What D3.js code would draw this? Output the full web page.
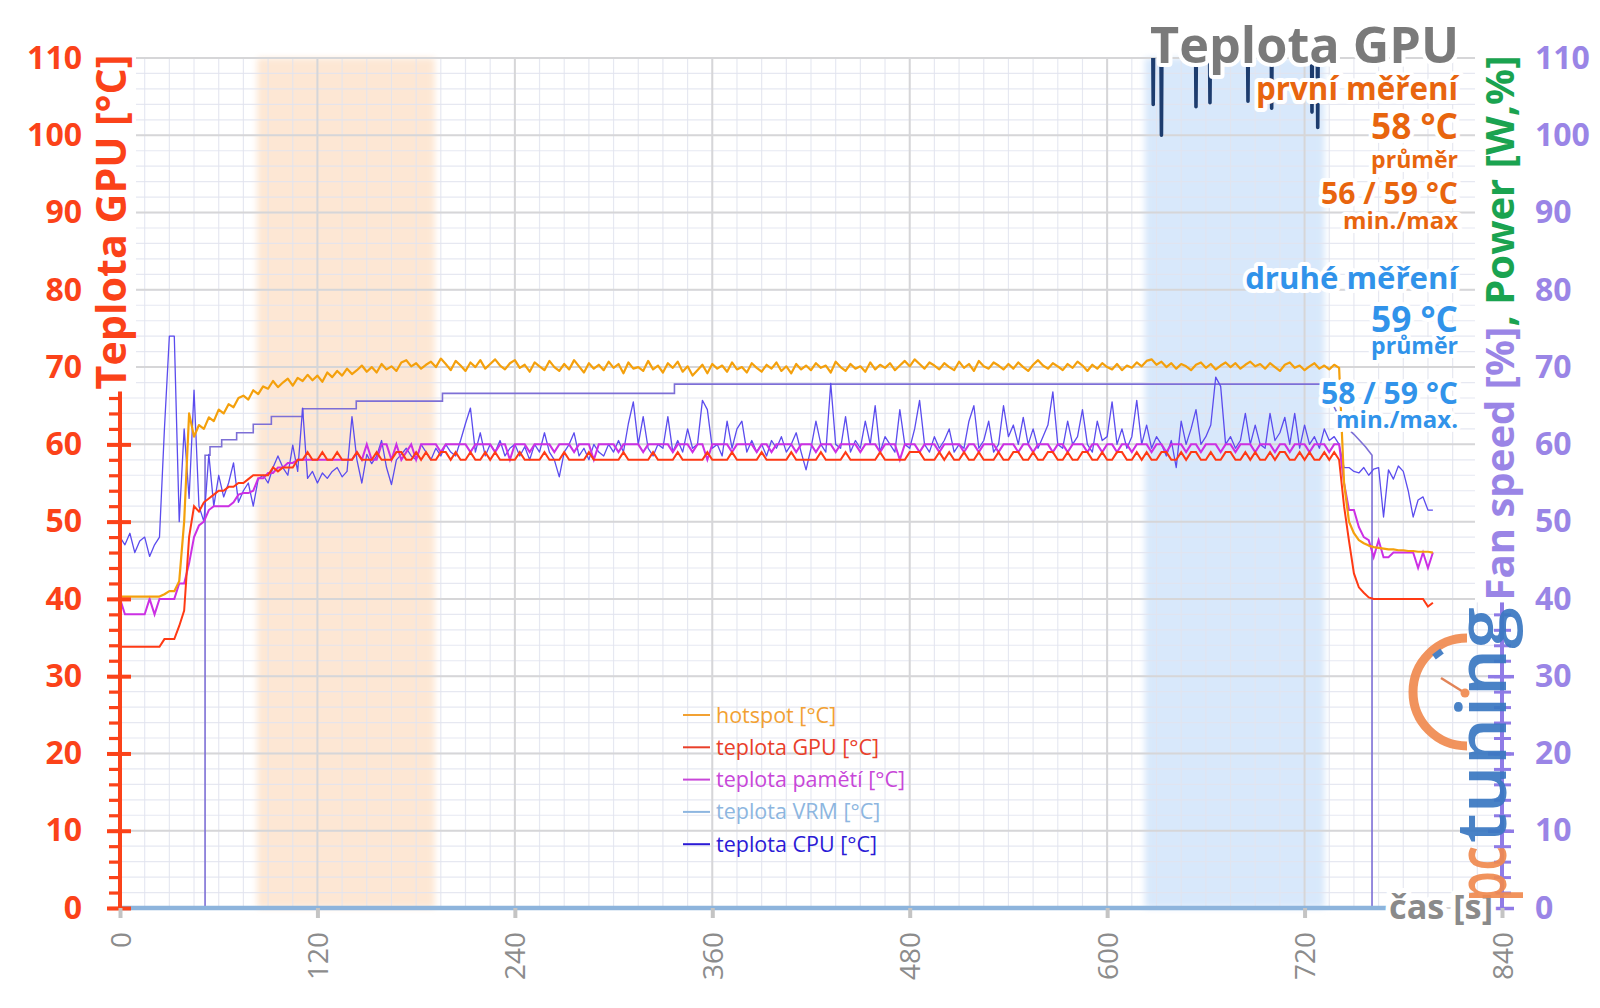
<!DOCTYPE html>
<html><head><meta charset="utf-8">
<script src="https://cdn.jsdelivr.net/npm/d3@7"></script>
<style>
html,body{margin:0;padding:0;background:#fff;}
svg text{font-family:"Open Sans",sans-serif;}
</style></head><body>
<svg id="chart" width="1600" height="1008"></svg>
<script>
// ---------------- data ----------------
const timeStep = 3; // seconds between samples of the sampled series (t = index * 3)
const hotspot = [
40.3,40.3,40.3,40.3,40.3,40.3,40.3,40.3,40.3,40.6,
41,41,42.3,50,64,61,62.5,62,63.5,63,
64.5,64,65.2,64.8,66,66.3,65.8,67,66.5,67.5,
67.2,68.2,67.4,68,68.5,67.6,68.6,68.2,69,68.3,
68.9,68.1,69.3,68.7,69.5,68.9,69.8,69.1,69.6,70.2,
69.4,70,69.3,70.4,69.7,70.1,69.5,70.6,70.9,70.1,
70.5,69.8,70.3,70.7,70,71.1,70.4,69.6,70.8,70.2,
69.5,70.6,70,70.9,69.8,70.4,71,70.2,69.7,70.5,
70.9,69.9,70.3,69.4,70.6,70.1,69.6,70.8,70,69.5,
70.4,69.7,70.9,70.1,69.3,70.5,69.8,70.3,69.6,70.7,
69.9,70.4,69.2,70.6,69.8,70,69.5,70.8,69.7,70.2,
69.3,70.5,69.9,70.7,69.4,70.1,68.9,69.6,70.3,69.2,
70.4,69.8,70.2,69.4,70.6,69.7,70,69.3,70.5,69.9,
69.4,70.3,69.8,70.6,69.5,70.1,69.2,70.4,69.7,70.2,
69.6,70.5,69.9,70.2,69.3,70.7,70,69.5,70.4,69.8,
70.1,69.4,70.6,69.7,70.3,69.9,70.5,69.6,70.2,70.8,
70.1,71,70.4,69.8,70.6,70.2,69.7,70.5,70,69.6,
70.7,69.9,70.4,69.5,70.8,70.1,69.8,70.6,70.2,69.7,
70.4,69.8,70.6,70,69.5,70.3,70.9,70.2,69.8,70.5,
70.1,69.6,70.4,69.9,70.7,70.2,69.5,70.3,69.8,70.5,
70,69.7,70.4,69.6,70.2,69.9,70.6,70.1,70.8,71,
70.3,70.7,70,70.5,69.8,70.4,70.1,69.6,70.3,70.6,
69.9,70.4,69.7,70.2,70.6,70,70.5,69.8,70.3,70.7,
70.1,70.4,69.8,70.5,70,69.5,70.3,70.6,69.9,70.2,
69.6,70.1,70.5,69.8,70.2,69.7,70.3,69.9,55,50,
48.5,47.6,47.2,46.9,46.7,46.6,46.5,46.4,46.4,46.3,
46.3,46.2,46.2,46.1,46.1,46.1,46];
const gpuTemp = [
33.8,33.8,33.8,33.8,33.8,33.8,33.8,33.8,33.8,34.8,
34.8,34.8,36.5,38.5,48,52,51.3,52.5,53,53.5,
54,54,54.5,54.5,55,55,55.5,56,56,56,
56,57,56.5,57,57,57,58,58,59,58,
58,59,58,58,59,58,58,58,59,58,
58,58,59,58,58,58,59,59,58,58,
59,58,59,58,58,59,59,58,59,58,
58,59,58,58,59,58,59,58,58,58,
58,59,58,58,58,58,59,58,58,58,
59,58,58,58,58,59,58,58,58,58,
58,58,59,58,58,58,58,58,59,58,
58,58,58,59,58,58,58,58,58,59,
58,58,58,58,59,58,58,58,58,58,
59,58,58,58,58,58,59,58,58,58,
58,58,59,58,58,58,58,59,58,58,
58,58,58,58,59,58,58,58,58,58,
59,59,59,58,58,58,59,58,59,58,
58,59,58,58,59,58,58,58,59,58,
58,59,59,58,58,59,58,58,59,59,
58,58,59,58,58,59,59,58,58,59,
58,58,59,59,58,58,59,58,59,58,
58,59,59,58,58,59,58,59,59,58,
58,59,58,58,59,59,58,58,59,58,
59,58,58,59,58,59,59,58,58,59,
58,59,58,58,59,58,59,58,52,47.5,
43.3,41.5,40.8,40.2,40,40,40,40,40,40,
40,40,40,40,40,39,39.5];
const memTemp = [
40,38,38,38,38,38,40,38,40,40,
40,40,42,42,44.6,48,49.5,50,51.5,52,
52,52,52,52.5,53.5,53.7,53.7,54,55.6,55.6,
56.3,56.3,57,57,57.6,57.6,58,58,58,58,
58,58,58,58,58,58,58,58,59,58,
60,58,58,60,60,58,60,58,59,60,
58,60,60,60,60,59,60,60,60,60,
60,59,60,60,60,60,59,60,60,58,
60,60,60,59,60,60,60,60,59,60,
60,60,59,60,60,60,58,60,60,60,
60,59,60,60,60,60,59,60,60,60,
60,60,59,60,60,60,59,60,60,58,
60,60,60,60,59,60,60,60,60,59,
60,60,59,60,60,60,60,59,60,60,
60,59,60,60,60,59,60,60,60,60,
59,60,60,60,59,60,60,60,58,60,
60,60,59,60,60,60,59,60,60,60,
60,59,60,60,59,60,60,60,59,60,
60,60,59,60,60,59,60,60,60,59,
60,60,59,60,60,60,59,60,60,59,
60,60,59,60,60,59,60,60,60,59,
60,60,59,60,60,60,59,60,60,59,
60,60,60,59,60,60,59,60,60,60,
59,60,60,60,59,60,60,59,60,60,
60,59,60,60,60,59,60,60,55,51.5,
51.5,49.3,48,47.6,45.4,47.6,45.4,45.4,46,46,
46,46,46,44,46,44,46];
const cpuTemp = [
48,47,48.5,46,47.5,48,45.5,47,48,62,
74,74,50,62,53,67,52,50,58.7,52,
56,53.2,55,57.6,52.5,54,55,52,55.5,56,
55,57,58.5,57,56,59.9,56.5,64.7,55.6,56.5,
55,56.3,55.6,56.5,57,55.8,56.5,63.6,58,55,
58.7,57.5,58.5,60.5,57,54.8,58,58.7,59.5,58.5,
58,60,59,58,59.5,58.5,60,59,58.5,60.5,
62.7,64.7,59,61.5,58.5,60,59,60.5,58.5,59.5,
60,58.5,59.7,58,60,59,61.5,59,58,55.8,
59,60,61.5,58.5,59.5,58,60,59,58.5,60,
59,60.5,59,62.7,65.5,60,63.6,59.5,58.5,60,
59.5,63.6,59,60.5,59,62,59.5,60,65.7,64.5,
59.5,60,58.5,63,59.5,62,63,59,60.5,59,
60,58.5,60.5,59.5,61,59,60,61.5,59,56.7,
59.5,63,60,59,67.9,60,59.5,63.6,59,60.5,
59.5,63,60,65,59,61,60,59,64.5,60,
59.5,62,65.7,60,59,61,59.5,60.5,62,59,
60,59.5,63,65,59.5,60.5,63,59,60,65,
61,62.5,60,63.5,60,62,59.5,61,62.5,66.8,
60,59.5,63,60,61,64.5,60,59,63,60.5,
61,65.5,60,62,59.5,61,65.7,60,62.5,59.5,
61,60,58.5,60.5,57,63,60,62,64.5,60,
61,62.5,68.7,67.5,60,61,59.5,60.5,64,60,
62.5,60,59.5,64,60.5,61.5,63.5,60,64,59.5,
62.5,60,61,59.5,62,60.5,61,60,57,57,
56.5,56.3,57,56,56.8,57,50.6,56.7,55.5,57.2,
56.5,54,50.6,52.8,53.2,51.5,51.5];
// [time s, value]
const fanSpeed = [[0,0],[51.7,0],[51.7,58.6],[54.7,58.6],[54.7,59.7],[61.8,59.7],[61.8,60.6],[70.9,60.6],[70.9,61.5],[81,61.5],[81,62.6],[92,62.6],[92,63.6],[111,63.6],[111,64.6],[143.6,64.6],[143.6,65.6],[196,65.6],[196,66.6],[337,66.6],[337,67.8],[731,67.8],[743,62.7],[750,61.3],[757,59.7],[761,58.6],[761,0],[798,0]];
const vrmTemp = [[0,0],[798,0]];
const powerDips = [[622,116],[627.6,116],[628,104],[628.4,116],[632.6,116],[633,100],[633.4,116],[653.6,116],[654,103.7],[654.4,116],[662.1,116],[662.5,104.2],[662.9,116],[685.2,116],[685.6,104.4],[686,116],[699.6,116],[700,103.5],[700.4,116],[724.1,116],[724.5,103],[724.9,116],[727.6,116],[728,101],[728.4,116],[732,116]];
const xTicks = [0,120,240,360,480,600,720,840];
const yTicks = [0,10,20,30,40,50,60,70,80,90,100,110];
const shadedRuns = [{from:83.4,to:191.3,color:"#fde7d4"},{from:622.9,to:732.1,color:"#d8e8fb"}];
const legendNames = ["hotspot [°C]","teplota GPU [°C]","teplota pamětí [°C]","teplota VRM [°C]","teplota CPU [°C]"];
const legendColors = ["#f2a132","#e9402a","#c847d8","#8db6e0","#2b1bd6"];
const firstRunLines = ["první měření","58 °C","průměr","56 / 59 °C","min./max"];
const secondRunLines = ["druhé měření","59 °C","průměr","58 / 59 °C","min./max."];

// ---------------- drawing ----------------
const svg = d3.select("#chart");
const x = d3.scaleLinear().domain([0,840]).range([120,1502]);
const y = d3.scaleLinear().domain([0,110]).range([908,58]);

const defs = svg.append("defs");
defs.append("clipPath").attr("id","plotclip").append("rect")
  .attr("x",x(0)).attr("y",y(110)).attr("width",x(840)-x(0)).attr("height",y(0)-y(110)+6);
defs.append("filter").attr("id","soft").attr("x","-10%").attr("width","120%")
  .append("feGaussianBlur").attr("stdDeviation",3);

// shaded runs
svg.append("g").selectAll("rect").data(shadedRuns).join("rect")
  .attr("x",d=>x(d.from)).attr("width",d=>x(d.to)-x(d.from))
  .attr("y",y(110)).attr("height",y(0)-y(110))
  .attr("fill",d=>d.color).attr("filter","url(#soft)");

// grid
const grid = svg.append("g");
grid.selectAll(".vmin").data(d3.range(0,841,15)).join("line")
  .attr("x1",d=>x(d)).attr("x2",d=>x(d)).attr("y1",y(0)).attr("y2",y(110))
  .attr("stroke","#e2e4ef").attr("stroke-width",1.2).attr("opacity",0.85);
grid.selectAll(".hmin").data(d3.range(0,111,2)).join("line")
  .attr("x1",x(0)).attr("x2",x(840)).attr("y1",d=>y(d)).attr("y2",d=>y(d))
  .attr("stroke","#e2e4ef").attr("stroke-width",1.2).attr("opacity",0.85);
grid.selectAll(".vmaj").data(xTicks).join("line")
  .attr("x1",d=>x(d)).attr("x2",d=>x(d)).attr("y1",y(0)).attr("y2",y(110))
  .attr("stroke","#d6d6d8").attr("stroke-width",2);
grid.selectAll(".hmaj").data(yTicks).join("line")
  .attr("x1",x(0)).attr("x2",x(840)).attr("y1",d=>y(d)).attr("y2",d=>y(d))
  .attr("stroke","#d6d6d8").attr("stroke-width",2);

// series
const plot = svg.append("g").attr("clip-path","url(#plotclip)");
const lineIdx = d3.line().x((d,i)=>x(i*timeStep)).y(d=>y(d));
const linePts = d3.line().x(d=>x(d[0])).y(d=>y(d[1]));
plot.append("path").datum(fanSpeed).attr("d",linePts).attr("fill","none").attr("stroke","#7d6fd6").attr("stroke-width",1.6);
plot.append("path").datum(cpuTemp).attr("d",lineIdx).attr("fill","none").attr("stroke","#5b4cee").attr("stroke-width",1.3).attr("stroke-linejoin","round");
plot.append("path").datum(memTemp).attr("d",lineIdx).attr("fill","none").attr("stroke","#cc30e4").attr("stroke-width",2);
plot.append("path").datum(gpuTemp).attr("d",lineIdx).attr("fill","none").attr("stroke","#ff3a14").attr("stroke-width",2);
plot.append("path").datum(hotspot).attr("d",lineIdx).attr("fill","none").attr("stroke","#f4a00c").attr("stroke-width",2.2).attr("stroke-linejoin","round");
plot.append("path").datum(vrmTemp).attr("d",linePts).attr("fill","none").attr("stroke","#8db4dc").attr("stroke-width",4.5);
plot.append("path").datum(powerDips).attr("d",linePts).attr("fill","none").attr("stroke","#1d3c6e").attr("stroke-width",3.6).attr("stroke-linejoin","round");

// helpers
function halo(sel,w){ return sel.attr("stroke","#fff").attr("stroke-width",w).attr("stroke-linejoin","round").attr("paint-order","stroke"); }
function fit(sel,target){ const n=sel.node(); const fs=parseFloat(sel.attr("font-size")); const w=n.getComputedTextLength(); sel.attr("font-size",fs*target/w); return sel; }
function backRect(g,textSel,pad){ const b=textSel.node().getBBox(); g.insert("rect","text").attr("x",b.x-pad).attr("y",b.y+4).attr("width",b.width+2*pad).attr("height",b.height-6).attr("fill","#fff"); }

// left axis
const red = "#fb4219";
const la = svg.append("g").attr("transform",`translate(${x(0)},0)`);
la.call(d3.axisLeft(y).tickValues(d3.range(0,111,2)).tickSize(11).tickSizeOuter(0).tickFormat(""));
la.call(g=>{g.select(".domain").remove(); g.selectAll("line").attr("stroke",red).attr("stroke-width",3.2).attr("x1",0);});
const la2 = svg.append("g").attr("transform",`translate(${x(0)},0)`);
la2.call(d3.axisLeft(y).tickValues(yTicks).tickSize(13).tickPadding(25).tickSizeOuter(0));
la2.select(".domain").attr("stroke",red).attr("stroke-width",4).attr("d",`M0,${y(110)}V${y(0)}`);
la2.selectAll(".tick line").attr("stroke",red).attr("stroke-width",4).attr("x2",-13).attr("x1",11);
la2.selectAll(".tick text").attr("fill",red).attr("font-size",32).attr("font-weight",700).attr("font-family","'Open Sans',sans-serif");

// right axis
const purple = "#9a85e6";
const ra = svg.append("g").attr("transform",`translate(${x(840)},0)`);
ra.call(d3.axisRight(y).tickValues(d3.range(0,111,2)).tickSize(9).tickSizeOuter(0).tickFormat(""));
ra.call(g=>{g.select(".domain").remove(); g.selectAll("line").attr("stroke","#8f7be6").attr("stroke-width",3).attr("x1",-8);});
const ra2 = svg.append("g").attr("transform",`translate(${x(840)},0)`);
ra2.call(d3.axisRight(y).tickValues(yTicks).tickSize(12).tickPadding(21).tickSizeOuter(0));
ra2.select(".domain").attr("stroke","#8f7be6").attr("stroke-width",4).attr("d",`M0,${y(110)}V${y(0)}`);
ra2.selectAll(".tick line").attr("stroke","#8f7be6").attr("stroke-width",3.5).attr("x1",-14);
ra2.selectAll(".tick text").attr("fill",purple).attr("font-size",32).attr("font-weight",700).attr("font-family","'Open Sans',sans-serif");

// bottom axis
const ba = svg.append("g").attr("transform",`translate(0,${y(0)})`);
ba.call(d3.axisBottom(x).tickValues(xTicks).tickSize(10).tickSizeOuter(0));
ba.select(".domain").remove();
ba.selectAll(".tick line").attr("stroke","#c4c4c4").attr("stroke-width",4);
ba.selectAll(".tick text").attr("fill","#8c8c8c").attr("font-size",28).attr("font-family","'Open Sans',sans-serif")
  .attr("transform","rotate(-90)").attr("text-anchor","end").attr("x",-24).attr("y",0).attr("dy","0.36em");

// legend
const lg = svg.append("g");
legendNames.forEach((name,i)=>{
  const cy = 715 + i*32.3;
  lg.append("line").attr("x1",683).attr("x2",710).attr("y1",cy).attr("y2",cy).attr("stroke",legendColors[i]).attr("stroke-width",2);
  lg.append("text").attr("x",716).attr("y",cy+7.5).attr("fill",legendColors[i]).attr("font-size",21.5).text(name);
});

// axis titles
const ltg = svg.append("g").attr("transform",`translate(126,222) rotate(-90)`);
const lt = ltg.append("text").attr("text-anchor","middle")
  .attr("font-size",43).attr("font-weight",700).attr("fill",red).text("Teplota GPU [°C]");
fit(lt,335); backRect(ltg,lt,2);
const rtg = svg.append("g").attr("transform",`translate(1514,328) rotate(-90)`);
const rt = rtg.append("text").attr("text-anchor","middle")
  .attr("font-size",43).attr("font-weight",700);
rt.append("tspan").attr("fill",purple).text("Fan speed [%]");
rt.append("tspan").attr("fill","#1aa350").text(", Power [W,%]");
fit(rt,545); backRect(rtg,rt,2);

// x axis label
const xl = svg.append("text").attr("x",1493).attr("y",919).attr("text-anchor","end").attr("font-size",33).attr("font-weight",700).attr("fill","#8a8a8a").text("čas [s]");
halo(xl,10); fit(xl,104);

// logo
const logo = svg.append("g").attr("opacity",0.92);
logo.append("path").attr("d","M1467,638 A54,54 0 0 0 1467,746").attr("fill","none").attr("stroke","#f08a50").attr("stroke-width",9);
logo.append("line").attr("x1",1434).attr("y1",657).attr("x2",1442).attr("y2",651).attr("stroke","#3a78c2").attr("stroke-width",6);
logo.append("line").attr("x1",1441).attr("y1",678).attr("x2",1465).attr("y2",693).attr("stroke","#e07a4a").attr("stroke-width",2.5);
logo.append("circle").attr("cx",1465).attr("cy",693).attr("r",4.5).attr("fill","#f08a50");
logo.append("text").attr("transform","translate(1506,843) rotate(-90)").attr("font-family","'Open Sans',sans-serif").attr("font-weight",600)
  .attr("font-size",68).attr("fill","#3a78c2").attr("textLength",236).attr("lengthAdjust","spacingAndGlyphs").text("tuning");
logo.append("text").attr("transform","translate(1506,902) rotate(-90)").attr("font-family","'Open Sans',sans-serif").attr("font-weight",600)
  .attr("font-size",68).attr("fill","#f08a50").attr("textLength",56).attr("lengthAdjust","spacingAndGlyphs").text("pc");

// title and run summaries
const tt = svg.append("text").attr("x",1459).attr("y",63).attr("text-anchor","end").attr("font-size",50).attr("font-weight",700).attr("fill","#7a7a7a").text("Teplota GPU");
halo(tt,8); fit(tt,309);
const firstSpec = [[100,30,202],[139,36,87],[168,22,87],[204,30,137],[229,22,115]];
const secondSpec = [[289,30,213],[332,36,87],[354,22,87],[404,30,137],[428,22,122]];
firstRunLines.forEach((s,i)=>{
  const t = svg.append("text").attr("x",1458).attr("y",firstSpec[i][0]).attr("text-anchor","end").attr("font-size",firstSpec[i][1]).attr("font-weight",700).attr("fill","#e8650e").text(s);
  halo(t,8); fit(t,firstSpec[i][2]);
});
secondRunLines.forEach((s,i)=>{
  const t = svg.append("text").attr("x",1458).attr("y",secondSpec[i][0]).attr("text-anchor","end").attr("font-size",secondSpec[i][1]).attr("font-weight",700).attr("fill","#3193ea").text(s);
  halo(t,8); fit(t,secondSpec[i][2]);
});
</script>
</body></html>
